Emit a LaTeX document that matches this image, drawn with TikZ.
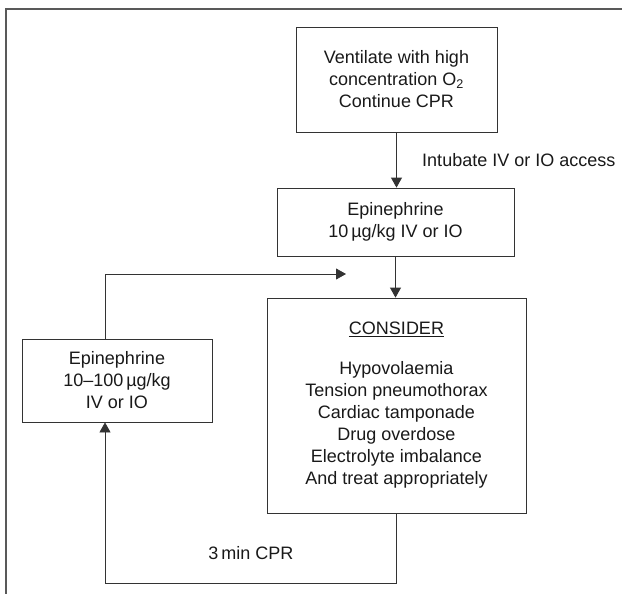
\documentclass[tikz,border=0pt]{standalone}
\usepackage{fontspec}
\setmainfont{Liberation Sans}
\usetikzlibrary{arrows.meta}

\begin{document}
\begin{tikzpicture}[
x=1pt, y=-1pt,
stepbox/.style={draw=black!80, line width=.8pt, align=center, inner sep=0pt, font=\fontsize{18}{22}\selectfont, text=black!90},
flow/.style={draw=black!80, line width=.8pt, -{Triangle[length=10pt, width=11pt]}},
frame/.style={draw=black!65, line width=1.4pt},
lbl/.style={midway, right=22pt, font=\fontsize{18}{22}\selectfont, text=black!90},
note/.style={font=\fontsize{18}{22}\selectfont, text=black!90}
]
\useasboundingbox (0,0) rectangle (622,594);

%%% Frame
\draw[frame] (622,9) -| (6,594);

%%% Boxes
\node[stepbox, minimum width=201pt, minimum height=105pt] (vent) at (396.5,79.5)
	{Ventilate with high\\concentration O\textsubscript{2}\\Continue CPR};
\node[stepbox, minimum width=237pt, minimum height=68pt] (epi) at (395.5,222)
	{Epinephrine\\10\,µg/kg IV or IO};
\node[stepbox, minimum width=259pt, minimum height=215pt] (consider) at (396.5,405.5)
	{\underline{CONSIDER}\\[18pt]Hypovolaemia\\Tension pneumothorax\\Cardiac tamponade\\Drug overdose\\Electrolyte imbalance\\And treat appropriately};
\node[stepbox, minimum width=190pt, minimum height=83pt] (epiloop) at (117,380.5)
	{Epinephrine\\10--100\,µg/kg\\IV or IO};

%%% Connectors
\coordinate (merge) at (346,274);
\coordinate (loopbot) at (396.5,583);
\draw[flow] (vent) -- (vent |- epi.north) node[lbl]{Intubate IV or IO access};
\draw[flow] (epi) -- (epi |- consider.north);
\draw[flow] ([xshift=-12pt]epiloop.north) |- (merge);
\draw[flow] (consider) -- (loopbot) -| ([xshift=-12pt]epiloop.south);
\node[note] (cpr) at (251,553) {3\,min CPR};

\end{tikzpicture}
\end{document}
